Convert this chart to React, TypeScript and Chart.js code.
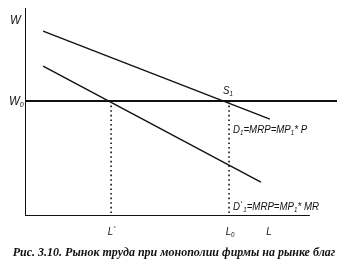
import React, { useEffect, useRef } from "react";
import { Chart, registerables } from "chart.js";

Chart.register(...registerables);

// Data (abstract units: L horizontal 0..100, W vertical 0..100)
const W0 = 55.3;
const L_STAR = 27.6;
const L_ZERO = 65.4;
const L_LABEL_X = 77.9;
const X_AXIS_END = 91.3;
const Y_AXIS_TOP = 100;
const D1_X = [5.8, 78.5];
const D1_Y = [88.9, 46.6];
const DP1_X = [5.8, 75.6];
const DP1_Y = [72.1, 16.3];
const W0_LINE_X = [0, 100];
const X_LABELS = ["L`", "L", "L"];
const CAPTION = "Рис. 3.10. Рынок труда при монополии фирмы на рынке благ";

const pts = (xs: number[], ys: number[]) => xs.map((x, i) => ({ x, y: ys[i] }));

type Seg = [string, boolean];
const FAM = "'Liberation Sans Narrow', 'Liberation Sans', sans-serif";

function fontFor(sub: boolean, size: number) {
  return sub ? `italic ${Math.round(size * 0.65)}px ${FAM}` : `italic ${size}px ${FAM}`;
}
function drawSegs(ctx: CanvasRenderingContext2D, segs: Seg[], x: number, y: number, size = 11, sx = 1) {
  ctx.save();
  ctx.translate(x, y);
  ctx.scale(sx, 1);
  let cx = 0;
  for (const [t, sub] of segs) {
    ctx.font = fontFor(sub, size);
    ctx.fillText(t, cx, sub ? size * 0.3 : 0);
    cx += ctx.measureText(t).width;
  }
  ctx.restore();
  return cx * sx;
}
function segsWidth(ctx: CanvasRenderingContext2D, segs: Seg[], size = 11, sx = 1) {
  let w = 0;
  for (const [t, sub] of segs) {
    ctx.font = fontFor(sub, size);
    w += ctx.measureText(t).width;
  }
  return w * sx;
}

const labelsPlugin = {
  id: "labels",
  afterDraw(chart: any) {
    const ctx: CanvasRenderingContext2D = chart.ctx;
    const xs = chart.scales.x;
    const ys = chart.scales.y;
    ctx.save();
    ctx.fillStyle = "#111";
    ctx.textBaseline = "middle";
    const px = (v: number) => xs.getPixelForValue(v);
    const py = (v: number) => ys.getPixelForValue(v);
    const SX = 0.88;

    drawSegs(ctx, [["W", false]], 10, py(94.2), 13, SX);
    drawSegs(ctx, [["W", false], ["0", true]], 9, py(W0), 13, SX);
    drawSegs(ctx, [["S", false], ["1", true]], px(L_ZERO) - 6, py(W0) - 10, 11, SX);
    drawSegs(
      ctx,
      [["D", false], ["1", true], ["=MRP=MP", false], ["1", true], ["* P", false]],
      px(L_ZERO) + 4,
      py(41.3),
      11,
      SX
    );
    drawSegs(
      ctx,
      [["D`", false], ["1", true], ["=MRP=MP", false], ["1", true], ["* MR", false]],
      px(L_ZERO) + 4,
      py(4.3),
      11,
      SX
    );
    const xl: [Seg[], number][] = [
      [[[X_LABELS[0], false]], L_STAR],
      [[[X_LABELS[1], false], ["0", true]], L_ZERO],
      [[[X_LABELS[2], false]], L_LABEL_X],
    ];
    for (const [segs, v] of xl) {
      const w = segsWidth(ctx, segs, 11, SX);
      drawSegs(ctx, segs, px(v) - w / 2 + 1, py(0) + 16, 11, SX);
    }
    ctx.font = "italic bold 12px 'Liberation Serif', serif";
    ctx.textAlign = "center";
    ctx.fillText(CAPTION, 174, 253);
    ctx.restore();
  },
};

export default function App() {
  const ref = useRef<HTMLCanvasElement>(null);
  useEffect(() => {
    document.body.style.margin = "0";
    const black = "#111";
    const chart = new Chart(ref.current!, {
      type: "scatter",
      data: {
        datasets: [
          { data: pts([0, X_AXIS_END], [0, 0]), borderWidth: 2 },
          { data: pts([0, 0], [0, Y_AXIS_TOP]), borderWidth: 2 },
          { data: pts(W0_LINE_X, [W0, W0]), borderWidth: 2 },
          { data: pts(D1_X, D1_Y), borderWidth: 1.4 },
          { data: pts(DP1_X, DP1_Y), borderWidth: 1.4 },
          { data: pts([L_STAR, L_STAR], [W0, 0]), borderWidth: 1.6, borderDash: [1.6, 3] },
          { data: pts([L_ZERO, L_ZERO], [W0, 0]), borderWidth: 1.6, borderDash: [1.6, 3] },
        ].map((d) => ({
          ...d,
          showLine: true,
          borderColor: black,
          pointRadius: 0,
          fill: false,
        })) as any,
      },
      options: {
        animation: false,
        responsive: false,
        layout: { padding: { left: 25, right: 12, top: 8, bottom: 64 } },
        plugins: { legend: { display: false }, tooltip: { enabled: false } },
        scales: {
          x: { type: "linear", min: 0, max: 100, display: false },
          y: { type: "linear", min: 0, max: 100, display: false },
        },
      },
      plugins: [labelsPlugin],
    });
    return () => chart.destroy();
  }, []);
  return (
    <div style={{ width: 349, height: 280, background: "#fff" }}>
      <canvas ref={ref} width={349} height={280} style={{ display: "block" }} />
    </div>
  );
}
